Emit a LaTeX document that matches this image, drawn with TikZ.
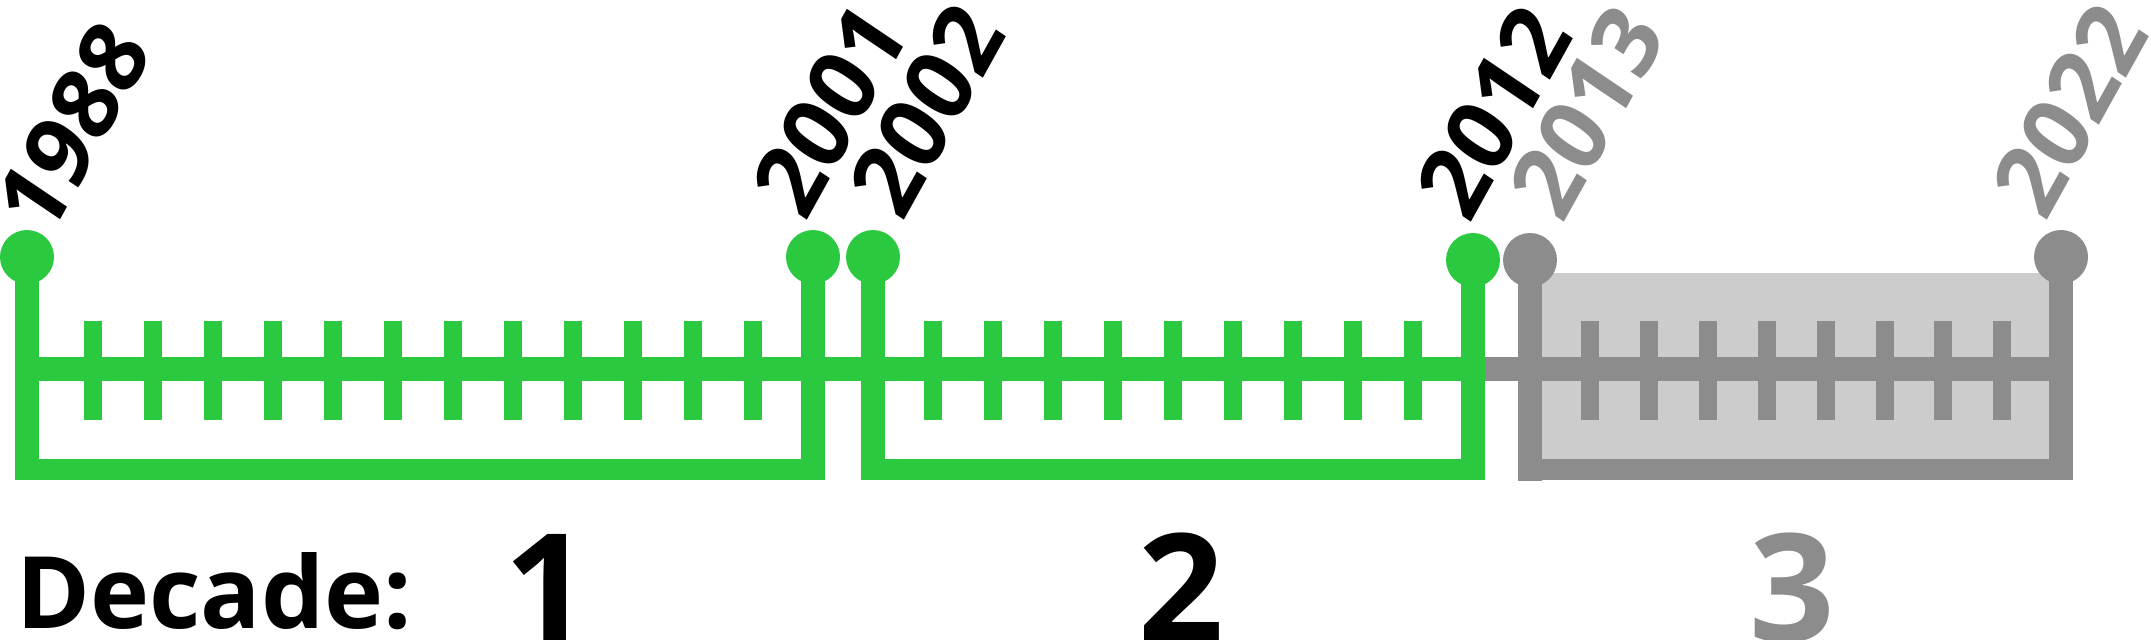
\documentclass[tikz,border=0pt]{standalone}
\usepackage{fontspec}
\setmainfont{Open Sans}
\definecolor{tlgreen}{RGB}{42,201,64}
\definecolor{tlgray}{RGB}{140,140,140}
\definecolor{tlfill}{RGB}{204,204,204}
\begin{document}
\begin{tikzpicture}[x=0.5pt,y=-0.5pt,
  yrtext/.style={anchor=base west, inner sep=0pt, text=black,
    font=\fontsize{47.5}{50}\selectfont\bfseries,
    cm={0.485,0.875,-0.829,0.559,(0,0)}},
  dotg/.style={circle, fill=tlgreen, minimum size=27pt, inner sep=0pt},
  dotgr/.style={circle, fill=tlgray, minimum size=27pt, inner sep=0pt},
  bignum/.style={anchor=base, inner sep=0pt, font=\fontsize{75}{80}\selectfont\bfseries}
]
\useasboundingbox (0,0) rectangle (2151,639);

% decade 3 background
\fill[tlfill] (1542,273) rectangle (2049,459);

% gray parts (decade 3)
\fill[tlgray] (1485,357) rectangle (2073,381);
\fill[tlgray] (1518,260) rectangle (1542,481);
\fill[tlgray] (2049,257) rectangle (2073,480);
\fill[tlgray] (1518,459) rectangle (2073,480);
\foreach \i in {0,...,7}
  \fill[tlgray] ({1581+58.9*\i},321) rectangle ({1599+58.9*\i},420);

% green main line
\fill[tlgreen] (15,357) rectangle (1485,381);

% decade 1
\fill[tlgreen] (15,257) rectangle (39,480);
\fill[tlgreen] (801,257) rectangle (825,480);
\fill[tlgreen] (15,459) rectangle (825,480);
\foreach \i in {0,...,11}
  \fill[tlgreen] ({84+60*\i},321) rectangle ({102+60*\i},420);

% decade 2
\fill[tlgreen] (861,257) rectangle (885,480);
\fill[tlgreen] (1461,260) rectangle (1485,480);
\fill[tlgreen] (861,459) rectangle (1485,480);
\foreach \i in {0,...,8}
  \fill[tlgreen] ({924+60*\i},321) rectangle ({942+60*\i},420);

% dots
\node[dotg] (d1988) at (27,257) {};
\node[dotg] (d2001) at (813,257) {};
\node[dotg] (d2002) at (873,257) {};
\node[dotg] (d2012) at (1473,260) {};
\node[dotgr] (d2013) at (1530,260) {};
\node[dotgr] (d2022) at (2061,257) {};

% year labels
\node[yrtext] (l1988) at (48,242) {1988};
\node[yrtext] (l2001) at (805,224) {2001};
\node[yrtext] (l2002) at (902,224) {2002};
\node[yrtext] (l2012) at (1469,226) {2012};
\node[yrtext, text=tlgray] (l2013) at (1562,226) {2013};
\node[yrtext, text=tlgray] (l2022) at (2045,224) {2022};

% decade labels
\node[anchor=base west, inner sep=0pt, font=\fontsize{50}{55}\selectfont\bfseries] (dec) at (16,628) {Decade:};
\node[bignum] (n1) at (547,641) {1};
\node[bignum] (n2) at (1181,641) {2};
\node[bignum, text=tlgray] (n3) at (1792,641) {3};
\end{tikzpicture}
\end{document}
